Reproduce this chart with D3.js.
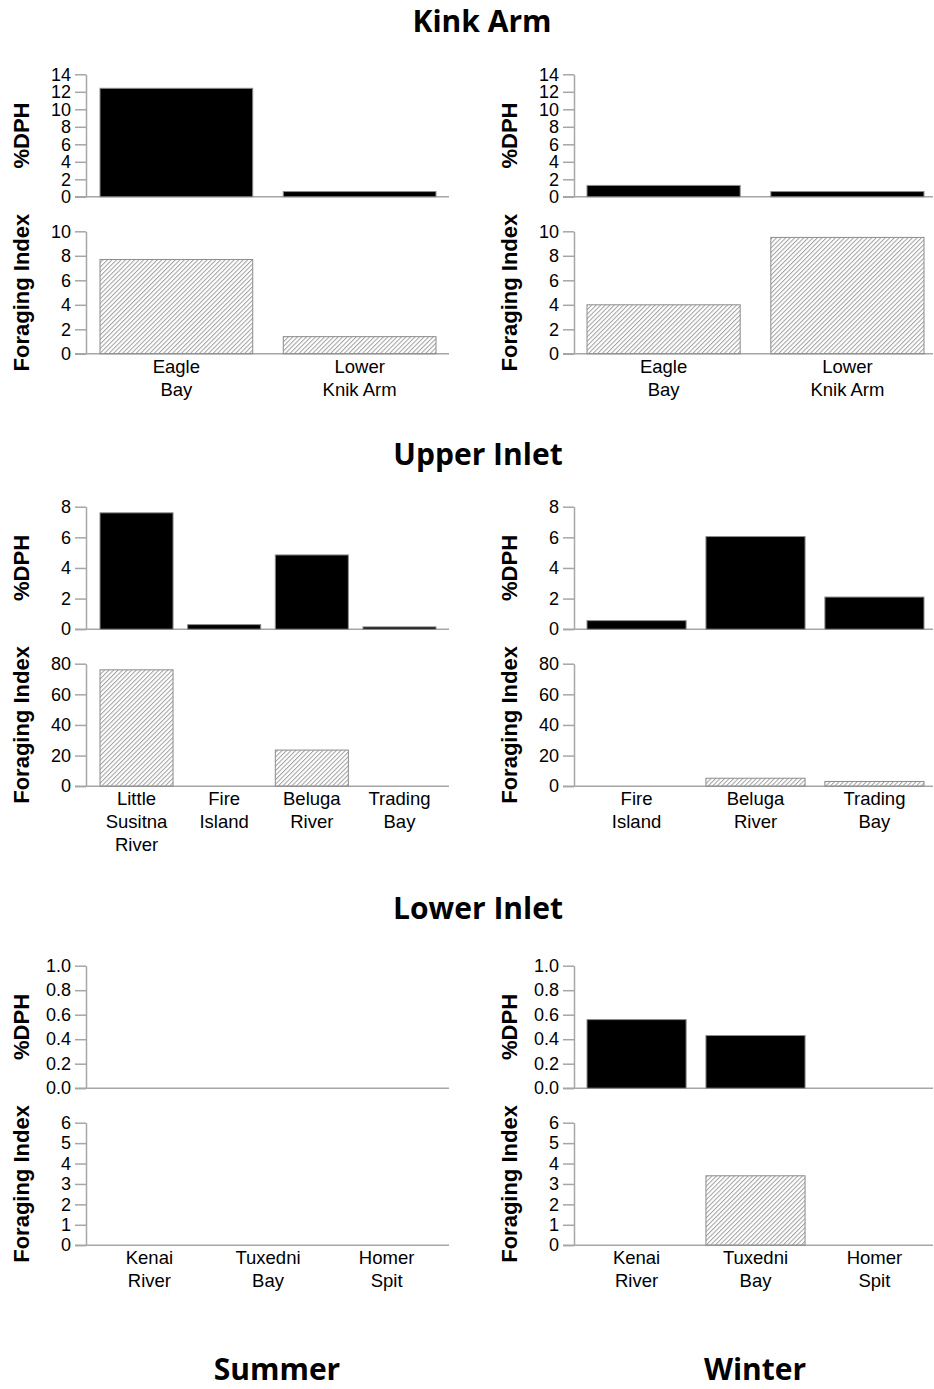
<!DOCTYPE html>
<html>
<head>
<meta charset="utf-8">
<script src="https://cdn.jsdelivr.net/npm/d3@7"></script>
<style>
  body { margin: 0; background: #fff; }
  svg { display: block; }
  .tick text { font-family: "Liberation Sans", Arial, sans-serif; font-size: 18px; fill: #000; }
</style>
</head>
<body>
<svg id="chart" width="934" height="1389"></svg>
<script>
// region / season names
const regions = ['Kink Arm', 'Upper Inlet', 'Lower Inlet']
const seasons = ['Summer', 'Winter']

// sites (line breaks as in the figure)
const kinkSites = ['Eagle\nBay', 'Lower\nKnik Arm']
const upperSummerSites = ['Little\nSusitna\nRiver', 'Fire\nIsland', 'Beluga\nRiver', 'Trading\nBay']
const upperWinterSites = ['Fire\nIsland', 'Beluga\nRiver', 'Trading\nBay']
const lowerSites = ['Kenai\nRiver', 'Tuxedni\nBay', 'Homer\nSpit']

// %DPH and foraging index values
const kinkSummerDPH = [12.4, 0.6]
const kinkSummerFI = [7.7, 1.4]
const kinkWinterDPH = [1.3, 0.6]
const kinkWinterFI = [4.0, 9.5]
const upperSummerDPH = [7.6, 0.3, 4.85, 0.15]
const upperSummerFI = [76, 0, 23.6, 0]
const upperWinterDPH = [0.56, 6.05, 2.1]
const upperWinterFI = [0, 5.2, 3.1]
const lowerSummerDPH = [0, 0, 0]
const lowerSummerFI = [0, 0, 0]
const lowerWinterDPH = [0.56, 0.43, 0]
const lowerWinterFI = [0, 3.4, 0]

// tick values
const kinkDPHTicks = [0, 2, 4, 6, 8, 10, 12, 14]
const kinkFITicks = [0, 2, 4, 6, 8, 10]
const upperDPHTicks = [0, 2, 4, 6, 8]
const upperFITicks = [0, 20, 40, 60, 80]
const lowerDPHTicks = [0, 0.2, 0.4, 0.6, 0.8, 1.0]
const lowerFITicks = [0, 1, 2, 3, 4, 5, 6]

const panels = [
  { region: 0, season: 0, sites: kinkSites, dph: kinkSummerDPH, fi: kinkSummerFI, dphTicks: kinkDPHTicks, fiTicks: kinkFITicks, fmt: d3.format('d') },
  { region: 0, season: 1, sites: kinkSites, dph: kinkWinterDPH, fi: kinkWinterFI, dphTicks: kinkDPHTicks, fiTicks: kinkFITicks, fmt: d3.format('d') },
  { region: 1, season: 0, sites: upperSummerSites, dph: upperSummerDPH, fi: upperSummerFI, dphTicks: upperDPHTicks, fiTicks: upperFITicks, fmt: d3.format('d') },
  { region: 1, season: 1, sites: upperWinterSites, dph: upperWinterDPH, fi: upperWinterFI, dphTicks: upperDPHTicks, fiTicks: upperFITicks, fmt: d3.format('d') },
  { region: 2, season: 0, sites: lowerSites, dph: lowerSummerDPH, fi: lowerSummerFI, dphTicks: lowerDPHTicks, fiTicks: lowerFITicks, fmt: d3.format('.1f') },
  { region: 2, season: 1, sites: lowerSites, dph: lowerWinterDPH, fi: lowerWinterFI, dphTicks: lowerDPHTicks, fiTicks: lowerFITicks, fmt: d3.format('.1f') }
]

// layout
const axisX = [86, 574]
const barRange = [[100, 436], [587, 924]]
const baseRange = [[75, 449], [563, 933]]
const regionTop = [74.3, 506.7, 965.7]
const regionTitleY = [32, 465, 919]
const plotH = 122.5
const gapH = 34.5
const axisColor = '#a6a6a6'
const barStroke = '#8c8c8c'
const font = '"Liberation Sans", Arial, sans-serif'

const svg = d3.select('#chart')

const defs = svg.append('defs')
defs.append('pattern')
  .attr('id', 'hatch')
  .attr('patternUnits', 'userSpaceOnUse')
  .attr('width', 3.2)
  .attr('height', 3.2)
  .attr('patternTransform', 'rotate(45)')
  .append('line')
  .attr('x1', 0.5).attr('y1', 0).attr('x2', 0.5).attr('y2', 3.2)
  .attr('stroke', '#a0a0a0')
  .attr('stroke-width', 1)

function drawPlot (parent, p, values, ticks, fmt, top, label, fill, isFI) {
  const g = parent.append('g')
  const ax = axisX[p.season]
  const bottom = top + plotH
  const y = d3.scaleLinear().domain([0, d3.max(ticks)]).range([bottom, top])
  const x = d3.scaleBand().domain(d3.range(values.length)).range(barRange[p.season]).paddingInner(1 / 6).paddingOuter(0)

  // baseline
  g.append('line')
    .attr('x1', baseRange[p.season][0]).attr('x2', baseRange[p.season][1])
    .attr('y1', bottom).attr('y2', bottom)
    .attr('stroke', axisColor).attr('stroke-width', 1.5)

  const yAxis = g.append('g')
    .attr('transform', `translate(${ax},0)`)
    .call(d3.axisLeft(y).tickValues(ticks).tickFormat(fmt).tickSize(11).tickPadding(4).tickSizeOuter(0))
  yAxis.select('.domain').attr('stroke', axisColor).attr('stroke-width', 1.5)
  yAxis.selectAll('.tick line').attr('stroke', axisColor).attr('stroke-width', 1.5)

  // bars (zero values draw nothing)
  g.selectAll('rect.bar')
    .data(values.map((v, i) => ({ v, i })).filter(d => d.v > 0))
    .join('rect')
    .attr('class', 'bar')
    .attr('x', d => x(d.i))
    .attr('width', x.bandwidth())
    .attr('y', d => y(d.v))
    .attr('height', d => bottom - y(d.v))
    .attr('fill', fill)
    .attr('stroke', barStroke)
    .attr('stroke-width', 1)

  // y axis title
  g.append('text')
    .attr('transform', `translate(${ax - 57},${(top + bottom) / 2}) rotate(-90)`)
    .attr('text-anchor', 'middle')
    .attr('font-family', font)
    .attr('font-weight', 'bold')
    .attr('font-size', 22)
    .text(label)

  // site labels under the foraging index plot
  if (isFI) {
    p.sites.forEach((s, i) => {
      const cx = x(i) + x.bandwidth() / 2
      const t = g.append('text')
        .attr('x', cx)
        .attr('y', bottom + 19)
        .attr('text-anchor', 'middle')
        .attr('font-family', font)
        .attr('font-size', 18.5)
      s.split('\n').forEach((line, k) => {
        t.append('tspan').attr('x', cx).attr('dy', k === 0 ? 0 : 23).text(line)
      })
    })
  }
}

panels.forEach(p => {
  const g = svg.append('g')
  const top = regionTop[p.region]
  drawPlot(g, p, p.dph, p.dphTicks, p.fmt, top, '%DPH', '#000', false)
  drawPlot(g, p, p.fi, p.fiTicks, d3.format('d'), top + plotH + gapH, 'Foraging Index', 'url(#hatch)', true)
})

// region titles
svg.selectAll('text.region')
  .data(regions)
  .join('text')
  .attr('class', 'region')
  .attr('x', (d, i) => i === 0 ? 482 : 478)
  .attr('y', (d, i) => regionTitleY[i])
  .attr('text-anchor', 'middle')
  .attr('font-family', '"Open Sans", sans-serif')
  .attr('font-weight', 'bold')
  .attr('font-size', 30)
  .text(d => d)

// season labels
svg.selectAll('text.season')
  .data(seasons)
  .join('text')
  .attr('class', 'season')
  .attr('x', (d, i) => i === 0 ? 277 : 755)
  .attr('y', 1380)
  .attr('text-anchor', 'middle')
  .attr('font-family', '"Open Sans", sans-serif')
  .attr('font-weight', 'bold')
  .attr('font-size', 30)
  .text(d => d)
</script>
</body>
</html>
